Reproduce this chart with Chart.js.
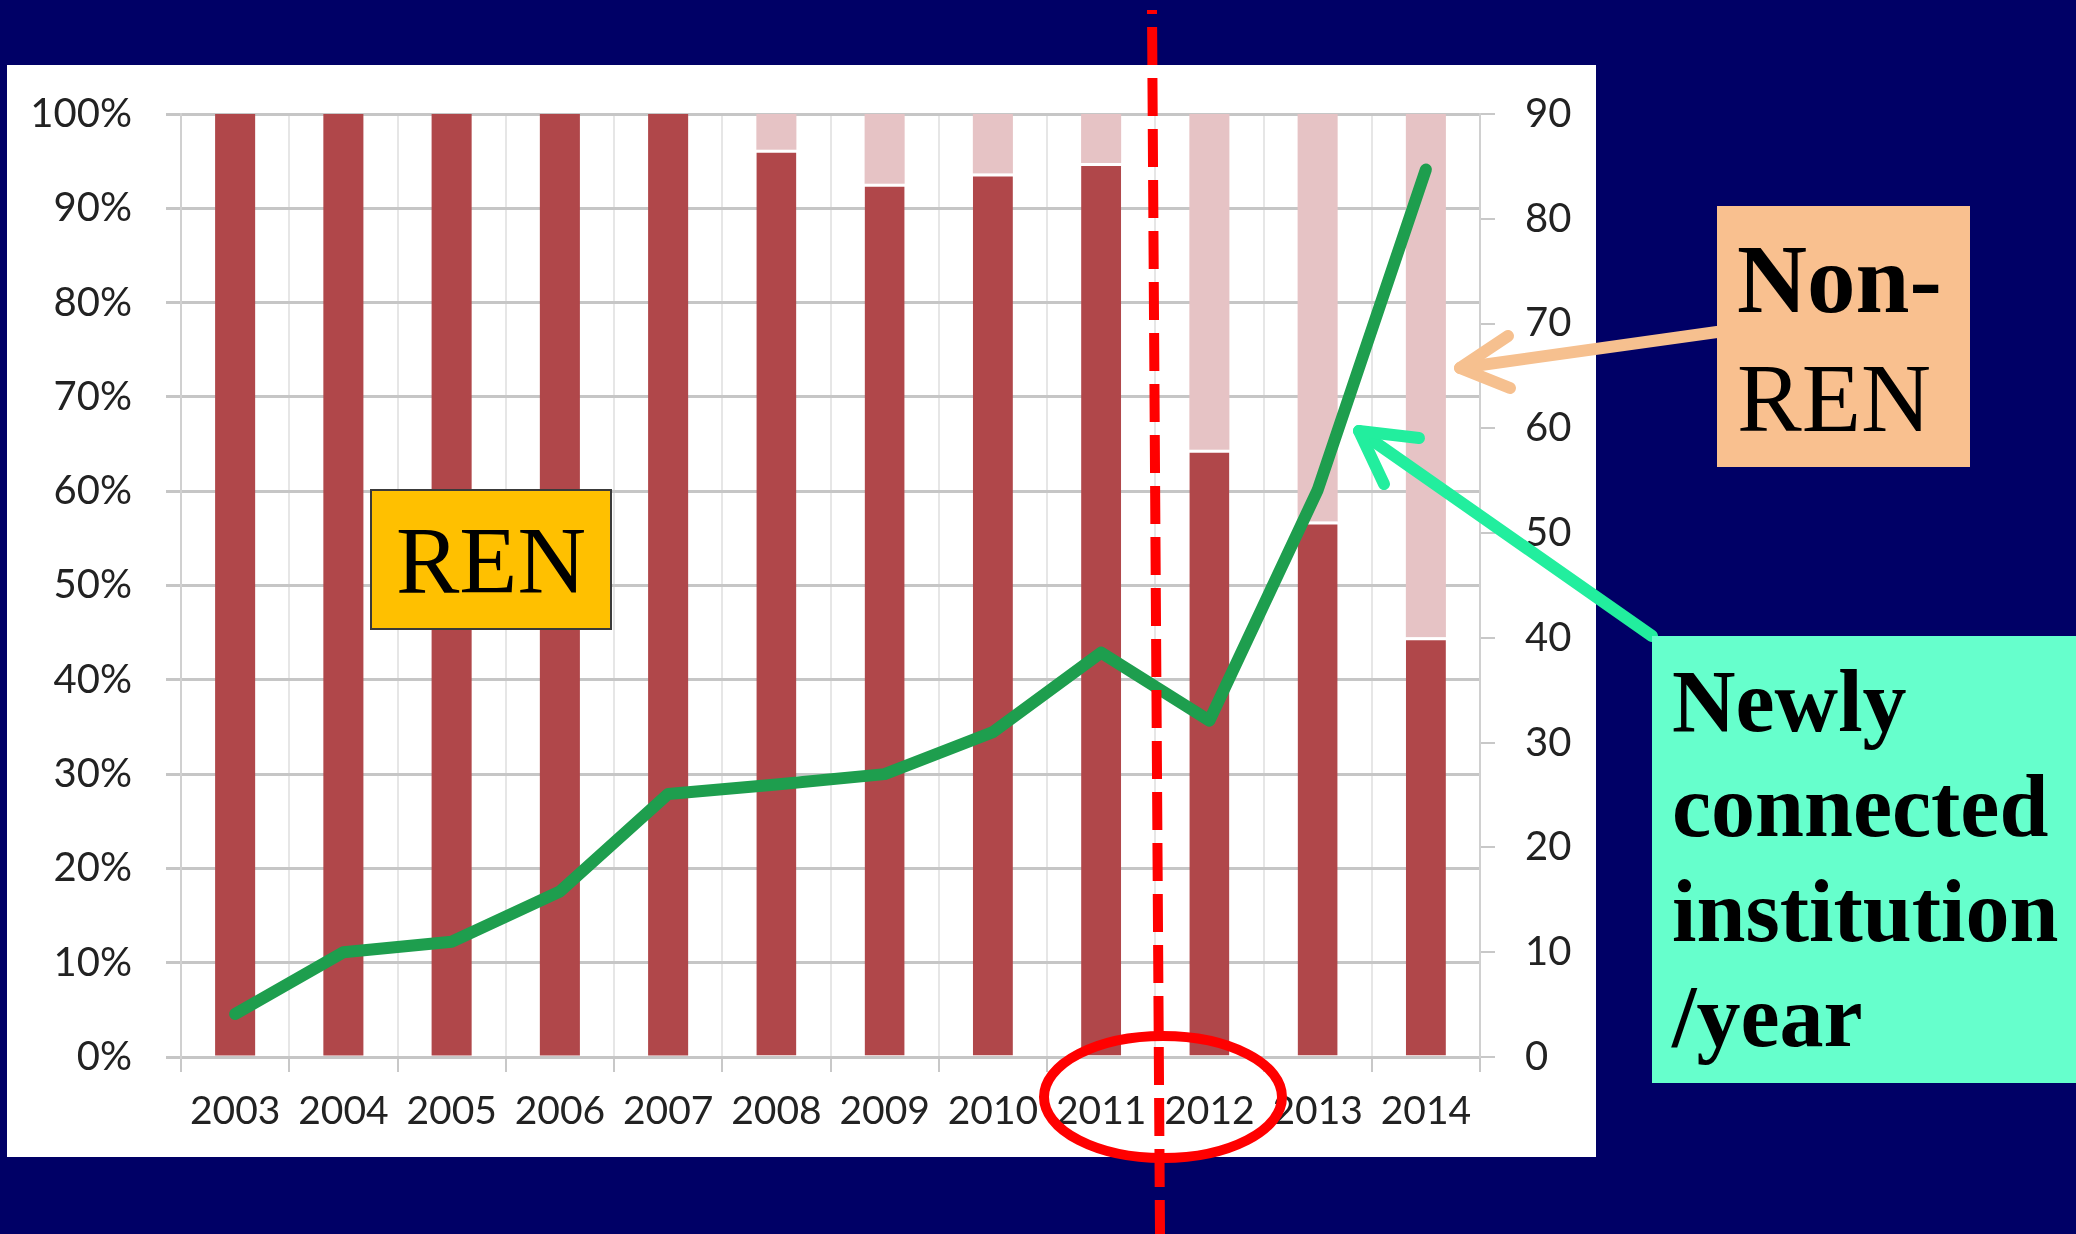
<!DOCTYPE html>
<html>
<head>
<meta charset="utf-8">
<script src="https://cdn.jsdelivr.net/npm/chart.js@4.4.1/dist/chart.umd.min.js"></script>
<style>
  html, body { margin: 0; padding: 0; }
  body {
    width: 2076px; height: 1234px; overflow: hidden; position: relative;
    background: #000066;
  }
  #panel { position: absolute; left: 7px; top: 65px; width: 1589px; height: 1092px; background: #fff; }
  #overlay { position: absolute; left: 0; top: 0; }
  .box { position: absolute; box-sizing: border-box; font-family: "Liberation Serif", "Times New Roman", serif; color: #000; white-space: nowrap; }
  #ren-box {
    left: 370px; top: 489px; width: 242px; height: 141px;
    background: #ffc000; border: 2px solid #3a3a3a;
    font-size: 95px; line-height: 140px; text-align: center;
  }
  #nonren-box {
    left: 1717px; top: 206px; width: 253px; height: 261px;
    background: #f9c08f; font-size: 97px; line-height: 119px;
    padding: 14px 0 0 20px;
  }
  #new-box {
    left: 1652px; top: 636px; width: 424px; height: 447px;
    background: #66ffcc; font-size: 88px; line-height: 105px; font-weight: bold;
    padding: 13px 0 0 20px;
  }
</style>
</head>
<body>
<div id="panel"><canvas id="share-chart" width="1589" height="1092"></canvas></div>

<svg id="overlay" width="2076" height="1234">
  <line x1="1152" y1="10" x2="1160" y2="1234" stroke="#ff0000" stroke-width="10"
        stroke-dasharray="38 13" stroke-dashoffset="34" />
  <ellipse cx="1163" cy="1097" rx="119" ry="61" fill="none" stroke="#ff0000" stroke-width="10" />
  <g stroke="#f6c08f" stroke-width="12" stroke-linecap="round" stroke-linejoin="round" fill="none">
    <line x1="1717" y1="332" x2="1460" y2="368" />
    <polyline points="1508,336 1460,368 1510,388" />
  </g>
  <g stroke="#22ee9e" stroke-width="12" stroke-linecap="round" stroke-linejoin="round" fill="none">
    <line x1="1652" y1="636" x2="1359" y2="431" />
    <polyline points="1419,438 1359,431 1384,484" />
  </g>
</svg>

<div class="box" id="ren-box">REN</div>
<div class="box" id="nonren-box"><b>Non-</b><br>REN</div>
<div class="box" id="new-box">Newly<br>connected<br>institution<br>/year</div>

<script>
const YEARS = ['2003', '2004', '2005', '2006', '2007', '2008', '2009', '2010', '2011', '2012', '2013', '2014'];

// share of connected institutions (%), stacked to 100
const REN_SHARE = [100, 100, 100, 100, 100, 96.2, 92.6, 93.7, 94.8, 64.4, 56.8, 44.5];
const NON_REN_SHARE = [0, 0, 0, 0, 0, 3.8, 7.4, 6.3, 5.2, 35.6, 43.2, 55.5];

// newly connected institutions per year (right axis)
const NEW_PER_YEAR = [4.1, 10, 11, 15.8, 25.1, 26, 27, 31, 38.6, 32.1, 54.1, 84.7];

// small line height keeps the edge-label padding from pushing the plot down
const tickFont = { family: 'Lato', size: 40, lineHeight: 0.5 };
const tickColor = '#222222';

const ctx = document.getElementById('share-chart');

new Chart(ctx, {
  data: {
    labels: YEARS,
    datasets: [
      {
        type: 'line',
        label: 'Newly connected institution/year',
        data: NEW_PER_YEAR,
        yAxisID: 'y1',
        borderColor: '#1e9e4e',
        borderWidth: 12,
        borderCapStyle: 'round',
        borderJoinStyle: 'round',
        pointRadius: 0,
        tension: 0,
        order: 0,
      },
      {
        type: 'bar',
        label: 'REN',
        data: REN_SHARE,
        yAxisID: 'y',
        backgroundColor: '#b0474a',
        borderColor: '#ffffff',
        // thin white seam only where a Non-REN segment sits on top
        borderWidth: (c) => ({ top: NON_REN_SHARE[c.dataIndex] > 0 ? 3 : 0, left: 0, right: 0, bottom: 0 }),
        borderSkipped: false,
        categoryPercentage: 1,
        barPercentage: 0.37,
        order: 1,
      },
      {
        type: 'bar',
        label: 'Non-REN',
        data: NON_REN_SHARE,
        yAxisID: 'y',
        backgroundColor: '#e6c3c5',
        categoryPercentage: 1,
        barPercentage: 0.37,
        order: 2,
      },
    ],
  },
  options: {
    responsive: false,
    animation: false,
    devicePixelRatio: 1,
    layout: { padding: { top: 49, left: 0, right: 0, bottom: 0 } },
    plugins: {
      legend: { display: false },
      tooltip: { enabled: false },
    },
    scales: {
      x: {
        stacked: true,
        afterFit: (scale) => { scale.height = 100; },
        grid: {
          offset: true,
          color: '#e6e6e6',
          lineWidth: 2,
          tickColor: '#c8c8c8',
          tickLength: 15,
        },
        border: { display: false },
        ticks: { font: { family: 'Lato', size: 39 }, color: tickColor, padding: 16, maxRotation: 0, autoSkip: false },
      },
      y: {
        stacked: true,
        position: 'left',
        min: 0,
        max: 100,
        afterFit: (scale) => { scale.width = 174; },
        grid: { color: '#c6c6c6', lineWidth: 3, tickLength: 15 },
        border: { display: true, color: '#d0d0d0', width: 2 },
        ticks: {
          stepSize: 10,
          font: tickFont,
          color: tickColor,
          padding: 34,
          callback: (value) => `${value}%`,
        },
      },
      y1: {
        position: 'right',
        min: 0,
        max: 90,
        afterFit: (scale) => { scale.width = 116; },
        grid: { drawOnChartArea: false, color: '#c8c8c8', lineWidth: 2, tickLength: 15 },
        border: { display: true, color: '#d0d0d0', width: 2 },
        ticks: { stepSize: 10, font: tickFont, color: tickColor, padding: 30 },
      },
    },
  },
});
</script>
</body>
</html>
